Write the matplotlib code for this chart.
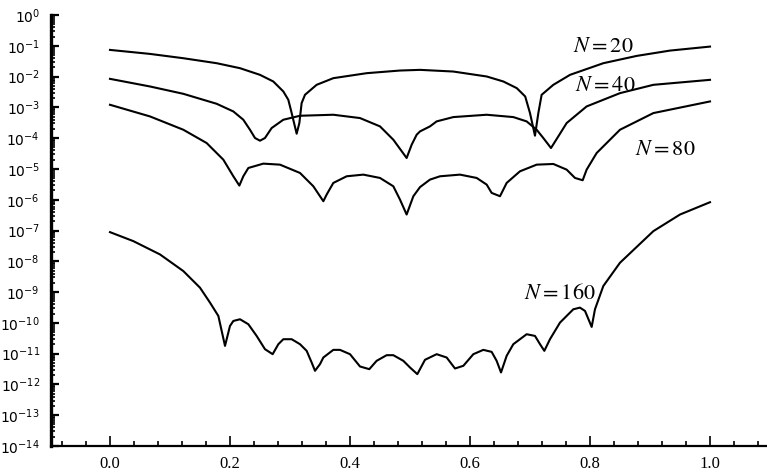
import matplotlib
matplotlib.use("Agg")
import matplotlib.pyplot as plt
import numpy as np
from matplotlib.ticker import LogLocator, NullFormatter, FixedLocator, FixedFormatter, MultipleLocator

# ---- data (y given as log10 of the value) ----
x_n20 = [0.0, 0.0667, 0.1222, 0.1778, 0.2167, 0.25, 0.2722, 0.2889, 0.2972, 0.3028, 0.3111,
         0.3156, 0.3194, 0.325, 0.3444, 0.3722, 0.4278, 0.4833, 0.5167, 0.572, 0.628, 0.6556,
         0.678, 0.692, 0.70, 0.7083, 0.7139, 0.7194, 0.7389, 0.7667, 0.8222, 0.8778, 0.9333, 1.0]
log_n20 = [-1.134, -1.264, -1.404, -1.566, -1.728, -1.944, -2.160, -2.484, -2.754, -3.186, -3.856,
           -3.510, -2.862, -2.592, -2.268, -2.052, -1.890, -1.804, -1.782, -1.836, -1.998, -2.160,
           -2.376, -2.646, -3.186, -3.921, -3.186, -2.592, -2.268, -1.944, -1.566, -1.329, -1.156, -1.026]

x_n40 = [0.0, 0.0667, 0.1222, 0.1778, 0.2056, 0.2222, 0.2333, 0.2417, 0.25, 0.2583, 0.2694,
         0.2889, 0.3167, 0.3722, 0.4167, 0.45, 0.4722, 0.4944, 0.5028, 0.5111, 0.5167, 0.5333,
         0.5444, 0.5722, 0.6278, 0.6722, 0.6944, 0.7111, 0.7222, 0.735, 0.7472, 0.7611, 0.7944,
         0.85, 0.9056, 1.0]
log_n40 = [-2.074, -2.322, -2.560, -2.884, -3.133, -3.402, -3.727, -3.996, -4.083, -3.996, -3.672,
           -3.402, -3.273, -3.240, -3.348, -3.618, -4.051, -4.645, -4.213, -3.889, -3.781, -3.618,
           -3.456, -3.316, -3.240, -3.316, -3.456, -3.727, -3.996, -4.321, -3.943, -3.510, -2.970,
           -2.538, -2.268, -2.106]

x_n80 = [0.0, 0.0667, 0.1222, 0.1611, 0.1889, 0.2056, 0.2156, 0.2222, 0.2306, 0.2556, 0.2833,
         0.3167, 0.3389, 0.3556, 0.3611, 0.3722, 0.3944, 0.4222, 0.45, 0.4722, 0.4833, 0.4944,
         0.5056, 0.5167, 0.5333, 0.55, 0.5833, 0.6111, 0.6278, 0.6361, 0.65, 0.6611, 0.6833,
         0.7111, 0.7389, 0.7611, 0.775, 0.7878, 0.7944, 0.8111, 0.85, 0.9056, 1.0]
log_n80 = [-2.916, -3.295, -3.727, -4.159, -4.699, -5.239, -5.541, -5.239, -4.969, -4.828, -4.861,
           -5.131, -5.563, -6.049, -5.833, -5.455, -5.239, -5.185, -5.293, -5.563, -5.995, -6.481,
           -5.887, -5.59, -5.347, -5.239, -5.185, -5.293, -5.509, -5.779, -5.887, -5.455, -5.077,
           -4.861, -4.839, -5.023, -5.293, -5.368, -5.023, -4.483, -3.727, -3.186, -2.808]

x_n160 = [0.0, 0.0389, 0.0833, 0.1222, 0.15, 0.1667, 0.1806, 0.1917, 0.2, 0.2056, 0.2167, 0.2306,
          0.2444, 0.2583, 0.2711, 0.2806, 0.2889, 0.3028, 0.3167, 0.3278, 0.3361, 0.3417, 0.35,
          0.3556, 0.3722, 0.3833, 0.4, 0.4167, 0.4322, 0.4444, 0.4611, 0.4722, 0.4889, 0.5, 0.5122,
          0.525, 0.5444, 0.5611, 0.575, 0.5889, 0.6056, 0.6222, 0.6361, 0.6444, 0.6517, 0.6611,
          0.6722, 0.6944, 0.7083, 0.7167, 0.7239, 0.7333, 0.75, 0.7722, 0.7833, 0.7917, 0.8028,
          0.8083, 0.8222, 0.85, 0.9056, 0.95, 1.0]
log_n160 = [-7.053, -7.345, -7.777, -8.317, -8.857, -9.343, -9.775, -10.748, -10.100, -9.938, -9.883,
            -10.045, -10.424, -10.855, -11.017, -10.693, -10.531, -10.531, -10.693, -10.909, -11.287,
            -11.557, -11.341, -11.125, -10.877, -10.877, -11.017, -11.417, -11.504, -11.233, -11.050,
            -11.050, -11.233, -11.449, -11.666, -11.2, -11.017, -11.125, -11.482, -11.395, -11.017,
            -10.877, -10.942, -11.233, -11.611, -11.071, -10.693, -10.369, -10.424, -10.693, -10.909,
            -10.531, -9.991, -9.559, -9.505, -9.613, -10.132, -9.559, -8.803, -8.047, -7.021, -6.481,
            -6.081]

labels = ["20", "40", "80", "160"]
label_x = [0.822, 0.825, 0.925, 0.75]
label_log = [-1.005, -2.268, -4.342, -9.02]

x_ticks = [0.0, 0.2, 0.4, 0.6, 0.8, 1.0]
y_exponents = list(range(0, -15, -1))

# ---- figure ----
plt.rcParams['mathtext.fontset'] = 'custom'
plt.rcParams['mathtext.rm'] = 'Liberation Sans'
plt.rcParams['mathtext.it'] = 'Liberation Sans:italic'

fig = plt.figure(figsize=(7.67, 4.76), dpi=100)
ax = fig.add_axes([0.0665, 0.063, 0.9335, 0.9055])

series = [(x_n20, log_n20), (x_n40, log_n40), (x_n80, log_n80), (x_n160, log_n160)]
for xs, ls in series:
    ax.plot(xs, 10.0 ** np.array(ls), color='black', lw=1.5, solid_joinstyle='round')

ax.set_yscale('log')
ax.set_ylim(1e-14, 1e0)
ax.set_xlim(-0.0983, 1.095)

for s in ['top', 'right']:
    ax.spines[s].set_visible(False)
ax.spines['left'].set_linewidth(2.4)
ax.spines['bottom'].set_linewidth(1.6)

ax.yaxis.set_major_locator(FixedLocator([10.0 ** e for e in y_exponents]))
ax.yaxis.set_major_formatter(FixedFormatter([r"$\mathregular{10^{%d}}$" % e for e in y_exponents]))
ax.yaxis.set_minor_locator(LogLocator(base=10, subs=np.arange(2, 10), numticks=30))
ax.yaxis.set_minor_formatter(NullFormatter())

ax.set_xticks(x_ticks)
ax.xaxis.set_minor_locator(MultipleLocator(0.04))
ax.set_xticklabels(["%.1f" % t for t in x_ticks], family='Liberation Serif', fontsize=12)

ax.tick_params(axis='y', which='major', direction='in', length=6, width=1.6, pad=8, labelsize=10)
ax.tick_params(axis='y', which='minor', direction='in', length=3, width=1.2)
ax.tick_params(axis='x', which='major', direction='in', length=7, width=1.2, pad=7)
ax.tick_params(axis='x', which='minor', direction='in', length=3.5, width=1.2)

for lab, lx, ly in zip(labels, label_x, label_log):
    ax.text(lx, 10.0 ** ly, r"$N=%s$" % lab, ha='center', va='center', fontsize=16,
            math_fontfamily='stix')

fig.savefig("out.png", dpi=100)
